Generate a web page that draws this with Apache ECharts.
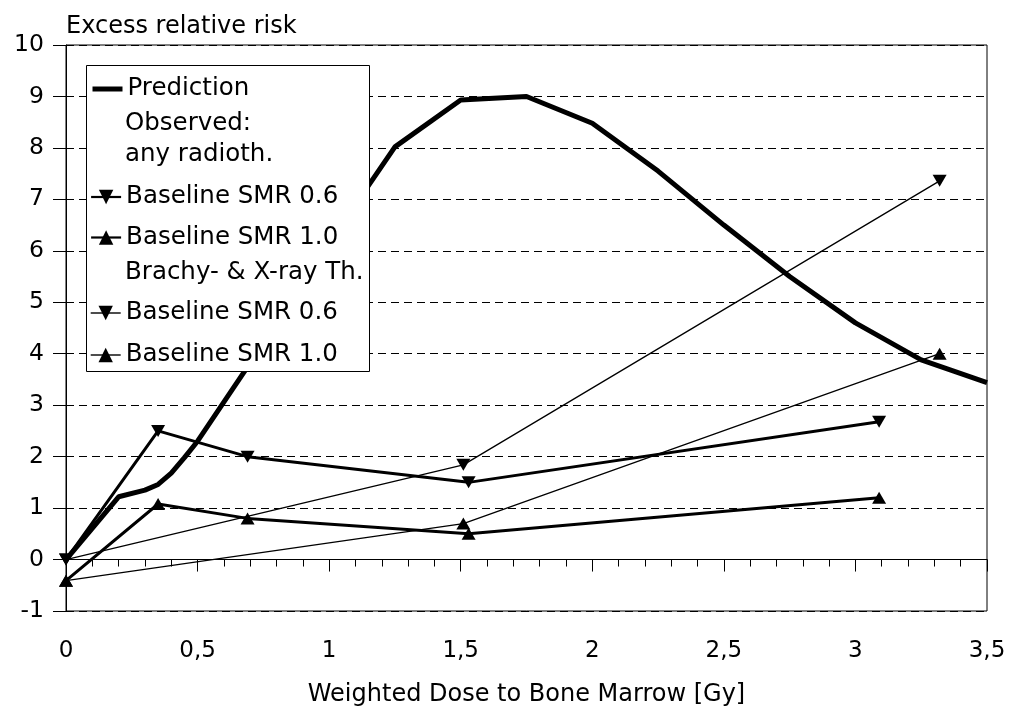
<!DOCTYPE html>
<html>
<head>
<meta charset="utf-8">
<script src="https://cdn.jsdelivr.net/npm/echarts@6/dist/echarts.min.js"></script>
<style>
	html, body {margin:0; padding:0; background:#fff;}
	#chart {width:1009px; height:718px;}
</style>
</head>
<body>
<div id="chart"></div>
<script>
	// prediction curve
	var predDose = [0, 0.2, 0.3, 0.35, 0.4, 0.45, 0.5, 0.75, 1, 1.25, 1.5, 1.75, 2, 2.25, 2.5, 2.75, 3, 3.25, 3.5];
	var predRisk = [0, 1.22, 1.35, 1.46, 1.68, 1.98, 2.3, 4.2, 6.15, 8.02, 8.93, 9.0, 8.48, 7.55, 6.5, 5.5, 4.6, 3.88, 3.44];
	// observed: any radiotherapy
	var anyDose = [0, 0.35, 0.69, 1.53, 3.09];
	var anySmr06 = [0, 2.5, 2.0, 1.5, 2.68];
	var anySmr10 = [-0.41, 1.08, 0.8, 0.5, 1.2];
	// observed: brachy- & x-ray therapy
	var brachyDose = [0, 1.51, 3.32];
	var brachySmr06 = [0, 1.84, 7.36];
	var brachySmr10 = [-0.41, 0.7, 4.0];

	var legendNames = ['pred', 'hdrObs', 'hdrAny', 'any06', 'any10', 'hdrBrachy', 'br06', 'br10'];
	var legendLabels = ['Prediction', 'Observed:', 'any radioth.', 'Baseline SMR 0.6', 'Baseline SMR 1.0', 'Brachy- & X-ray Th.', 'Baseline SMR 0.6', 'Baseline SMR 1.0'];
	var legendRowY = [89, 123.5, 155, 197, 237.5, 272.5, 313, 355];
	var legendLineW = [5, 0, 0, 2.2, 2.2, 0, 1.4, 1.4];

	var FONT = 'DejaVu Sans';
	var downTri = 'path://M0,0 L10,0 L5,9 Z';
	var upTri = 'path://M5,0 L10,9 L0,9 Z';

	function pairs(xs, ys) {
		return xs.map(function (x, i) { return [x, ys[i]]; });
	}

	var legends = legendNames.map(function (n, i) {
		var isHeader = n.indexOf('hdr') === 0;
		var lg = {
			zlevel: 1, z: 20,
			left: 90,
			top: legendRowY[i] - 14,
			padding: 0,
			itemWidth: 30,
			itemHeight: 18,
			selectedMode: false,
			data: [isHeader ? {name: n, icon: 'none'} : n],
			formatter: function (name) { return legendLabels[legendNames.indexOf(name)]; },
			lineStyle: {width: legendLineW[i], color: '#000'},
			textStyle: {fontFamily: FONT, fontSize: 24.5, lineHeight: 28, color: '#000'}
		};
		// prediction is a plain thick line in the legend
		if (n === 'pred') lg.itemStyle = {opacity: 0};
		return lg;
	});

	var myChart = echarts.init(document.getElementById('chart'));
	var option = {
		animation: false,
		backgroundColor: '#fff',
		grid: {left: 66, right: 22, top: 45, bottom: 107, show: true, borderColor: '#000', borderWidth: 1},
		legend: legends,
		graphic: [{
			type: 'rect', zlevel: 1, z: 10, x: 86.5, y: 65.5,
			shape: {width: 283, height: 306},
			style: {fill: '#fff', stroke: '#000', lineWidth: 1}
		}],
		xAxis: {
			type: 'value', min: 0, max: 3.5, interval: 0.5,
			name: 'Weighted Dose to Bone Marrow [Gy]',
			nameLocation: 'middle', nameGap: 72,
			nameTextStyle: {fontFamily: FONT, fontSize: 24, color: '#000'},
			axisLine: {show: true, lineStyle: {color: '#000', width: 1}},
			axisTick: {show: true, length: 12, lineStyle: {color: '#000'}},
			minorTick: {show: true, splitNumber: 5, length: 7, lineStyle: {color: '#000'}},
			axisLabel: {
				margin: 29, fontFamily: FONT, fontSize: 23, color: '#000',
				formatter: function (v) { return String(v).replace('.', ','); }
			},
			splitLine: {show: false}
		},
		yAxis: {
			type: 'value', min: -1, max: 10, interval: 1,
			name: 'Excess relative risk',
			nameLocation: 'end', nameGap: 6,
			nameTextStyle: {fontFamily: FONT, fontSize: 24, color: '#000', align: 'left'},
			axisLine: {show: true, lineStyle: {color: '#000', width: 1}},
			axisTick: {show: true, length: 13, lineStyle: {color: '#000'}},
			axisLabel: {margin: 22, fontFamily: FONT, fontSize: 23.5, color: '#000'},
			splitLine: {show: true, lineStyle: {color: '#000', width: 1, type: [8, 5]}}
		},
		series: [
			{
				name: 'pred', type: 'line', data: pairs(predDose, predRisk),
				showSymbol: false, symbol: 'none',
				lineStyle: {color: '#000', width: 5},
				itemStyle: {color: '#000'},
				markLine: {
					silent: true, symbol: 'none', label: {show: false},
					lineStyle: {color: '#000', width: 1, type: 'solid'},
					data: [{yAxis: 0}]
				}
			},
			{name: 'hdrObs', type: 'line', data: []},
			{name: 'hdrAny', type: 'line', data: []},
			{
				name: 'any06', type: 'line', data: pairs(anyDose, anySmr06),
				symbol: downTri, symbolSize: [14, 12],
				lineStyle: {color: '#000', width: 3}, itemStyle: {color: '#000'}
			},
			{
				name: 'any10', type: 'line', data: pairs(anyDose, anySmr10),
				symbol: upTri, symbolSize: [14, 12],
				lineStyle: {color: '#000', width: 3}, itemStyle: {color: '#000'}
			},
			{name: 'hdrBrachy', type: 'line', data: []},
			{
				name: 'br06', type: 'line', data: pairs(brachyDose, brachySmr06),
				symbol: downTri, symbolSize: [14, 12],
				lineStyle: {color: '#000', width: 1.3}, itemStyle: {color: '#000'}
			},
			{
				name: 'br10', type: 'line', data: pairs(brachyDose, brachySmr10),
				symbol: upTri, symbolSize: [14, 12],
				lineStyle: {color: '#000', width: 1.3}, itemStyle: {color: '#000'}
			}
		]
	};
	myChart.setOption(option);
</script>
</body>
</html>
